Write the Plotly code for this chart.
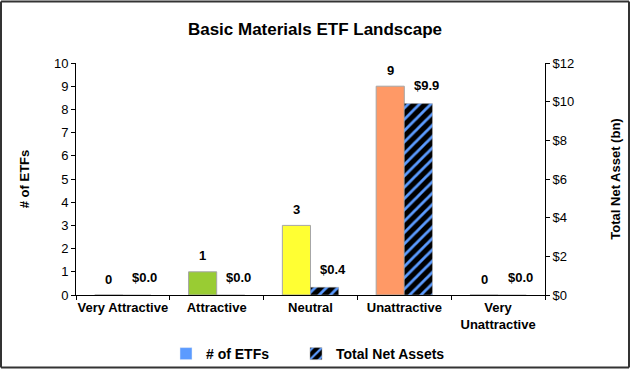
import plotly.graph_objects as go

categories = ["Very Attractive", "Attractive", "Neutral", "Unattractive", "Very<br>Unattractive"]
etf_counts = [0, 1, 3, 9, 0]
net_assets = [0.0, 0.0, 0.4, 9.9, 0.0]
etf_colors = ["#A6A6A6", "#99CC33", "#FFFF33", "#FF9966", "#A6A6A6"]
count_labels = ["0", "1", "3", "9", "0"]
asset_labels = ["$0.0", "$0.0", "$0.4", "$9.9", "$0.0"]

font = "Liberation Sans, Arial, sans-serif"

fig = go.Figure()
fig.add_trace(go.Bar(
    x=categories, y=etf_counts, name="# of ETFs",
    marker=dict(color=etf_colors, line=dict(color="#A6A6A6", width=1)),
    offsetgroup="a", yaxis="y", showlegend=False,
))
# legend proxy for # of ETFs (blue square)
fig.add_trace(go.Bar(
    x=[categories[0]], y=[None], name="<b># of ETFs</b>",
    marker=dict(color="#5B9BFF"), offsetgroup="a", yaxis="y", showlegend=True,
    legend="legend",
))
fig.add_trace(go.Bar(
    x=categories, y=net_assets, name="<b>Total Net Assets</b>",
    marker=dict(color="black", line=dict(color="#A6A6A6", width=0.5),
                pattern=dict(shape="/", fgcolor="#5B9BFF", bgcolor="black",
                             size=8, solidity=0.35, fillmode="replace")),
    offsetgroup="b", yaxis="y2", legend="legend2",
))

annotations = []
for c, v, t in zip(categories, etf_counts, count_labels):
    annotations.append(dict(x=c, y=v, xref="x", yref="y", text="<b>" + t + "</b>",
                            showarrow=False, xshift=-14, yshift=16, yanchor="middle",
                            font=dict(family=font, size=13, color="black")))
for c, v, t in zip(categories, net_assets, asset_labels):
    annotations.append(dict(x=c, y=v, xref="x", yref="y2", text="<b>" + t + "</b>",
                            showarrow=False, xshift=22, yshift=18, yanchor="middle",
                            font=dict(family=font, size=13, color="black")))

legend_y = -(354 - 295) / 232
fig.update_layout(
    width=630, height=369,
    margin=dict(l=76, r=85, t=63, b=74, autoexpand=False),
    paper_bgcolor="white", plot_bgcolor="white",
    barmode="group", bargap=0.4, bargroupgap=0,
    font=dict(family=font, size=13, color="black"),
    title=dict(text="<b>Basic Materials ETF Landscape</b>", x=0.5, xanchor="center",
               y=1 - 29 / 369, yanchor="middle", font=dict(size=17, family=font)),
    xaxis=dict(showline=True, linecolor="black", linewidth=1, ticks="outside",
               ticklen=4, tickcolor="black", tickson="boundaries", tickangle=0,
               tickfont=dict(family=font, size=13), showgrid=False,
               tickvals=categories,
               ticktext=["<b>" + c + "</b>" for c in categories]),
    yaxis=dict(range=[0, 10], dtick=1, showline=True, linecolor="black", linewidth=1,
               ticks="outside", ticklen=4, tickcolor="black", showgrid=False,
               zeroline=False, tickfont=dict(size=13),
               title=dict(text="<b># of ETFs</b>", standoff=21, font=dict(size=13))),
    yaxis2=dict(range=[0, 12], dtick=2, tickprefix="$", overlaying="y", side="right",
                showline=True, linecolor="black", linewidth=1, ticks="outside",
                ticklen=4, tickcolor="black", showgrid=False, zeroline=False,
                tickfont=dict(size=13),
                title=dict(text="<b>Total Net Asset (bn)</b>", standoff=37, font=dict(size=13))),
    legend=dict(orientation="h", x=(166 - 76) / 469, xanchor="left", y=legend_y, yanchor="middle",
                font=dict(size=14, family=font), itemwidth=30, bgcolor="rgba(0,0,0,0)"),
    legend2=dict(orientation="h", x=(296 - 76) / 469, xanchor="left", y=legend_y, yanchor="middle",
                 font=dict(size=14, family=font), itemwidth=30, bgcolor="rgba(0,0,0,0)"),
    annotations=annotations,
    shapes=[
        dict(type="line", xref="paper", yref="paper", x0=-75 / 469, x1=1 + 84 / 469,
             y0=1 + 61.5 / 232, y1=1 + 61.5 / 232, line=dict(color="#333333", width=2), layer="above"),
        dict(type="line", xref="paper", yref="paper", x0=-75 / 469, x1=1 + 84 / 469,
             y0=-72.5 / 232, y1=-72.5 / 232, line=dict(color="#333333", width=2), layer="above"),
        dict(type="line", xref="paper", yref="paper", x0=-75 / 469, x1=-75 / 469,
             y0=-72.5 / 232, y1=1 + 61.5 / 232, line=dict(color="#333333", width=2), layer="above"),
        dict(type="line", xref="paper", yref="paper", x0=1 + 84 / 469, x1=1 + 84 / 469,
             y0=-72.5 / 232, y1=1 + 61.5 / 232, line=dict(color="#333333", width=2), layer="above"),
    ],
)

fig.write_html("out.html", config={"displayModeBar": False},
               post_script="document.body.style.margin='0';")
